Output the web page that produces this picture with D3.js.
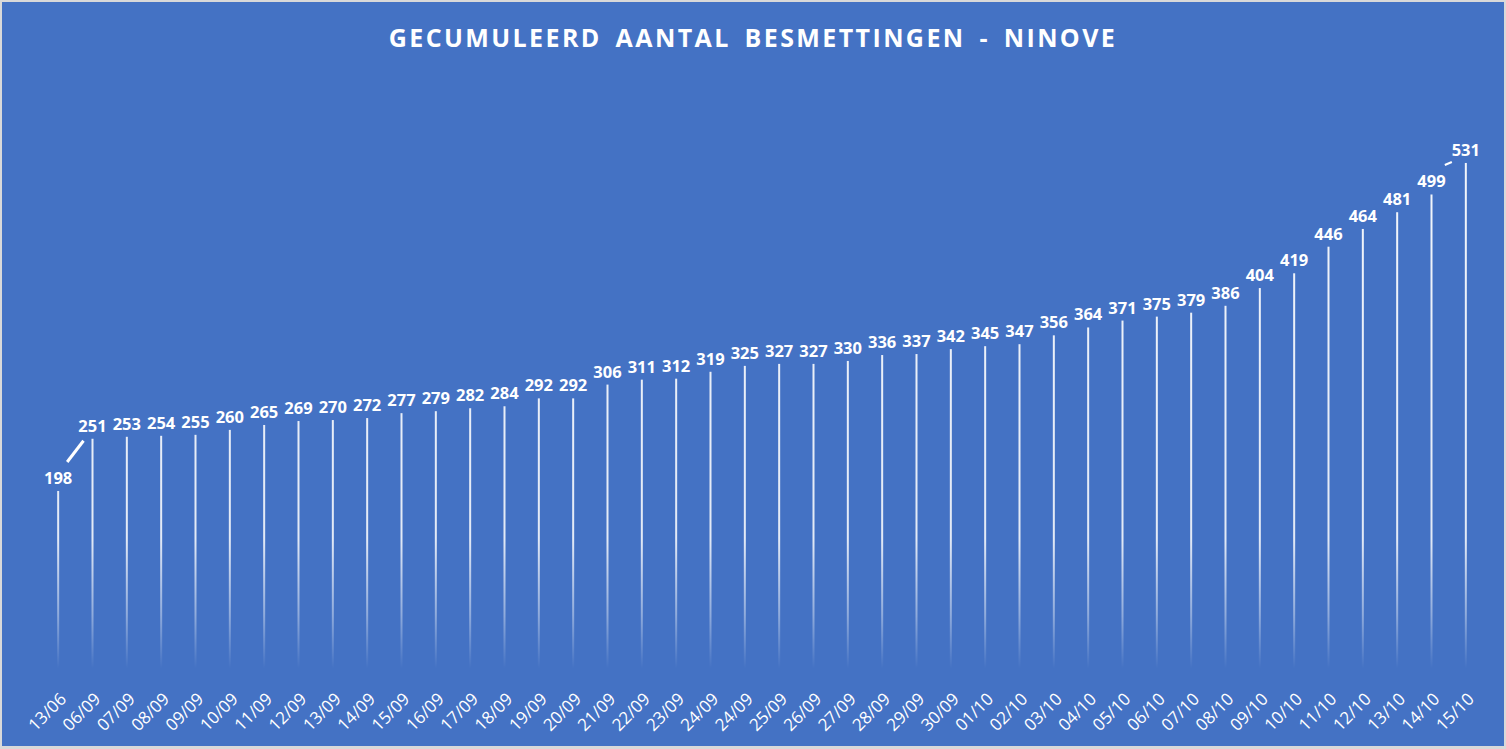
<!DOCTYPE html>
<html>
<head>
<meta charset="utf-8">
<script src="https://cdn.jsdelivr.net/npm/d3@7"></script>
<style>
  html, body { margin: 0; padding: 0; background: #d9d9d9; }
  svg { display: block; }
</style>
</head>
<body>
<svg id="chart" width="1506" height="749"></svg>
<script>
const title = "GECUMULEERD AANTAL BESMETTINGEN - NINOVE";
const categories = ["13/06","06/09","07/09","08/09","09/09","10/09","11/09","12/09","13/09","14/09","15/09","16/09","17/09","18/09","19/09","20/09","21/09","22/09","23/09","24/09","24/09","25/09","26/09","27/09","28/09","29/09","30/09","01/10","02/10","03/10","04/10","05/10","06/10","07/10","08/10","09/10","10/10","11/10","12/10","13/10","14/10","15/10"];
const values = [198,251,253,254,255,260,265,269,270,272,277,279,282,284,292,292,306,311,312,319,325,327,327,330,336,337,342,345,347,356,364,371,375,379,386,404,419,446,464,481,499,531];

const W = 1506, H = 749;
const svg = d3.select("#chart");
const font = "'Open Sans', 'DejaVu Sans', sans-serif";

// chart area background
svg.append("rect").attr("x", 2).attr("y", 2).attr("width", 1502).attr("height", 744).attr("fill", "#4472C4");

const margin = {left: 41, right: 23, top: 95, bottom: 63};
const x = d3.scaleBand().domain(d3.range(categories.length)).range([margin.left, W - margin.right]).padding(0);
const y = d3.scaleLinear().domain([0, 600]).range([H - margin.bottom, margin.top]);

// gradient for bars
const defs = svg.append("defs");
const grad = defs.append("linearGradient").attr("id", "barGrad")
  .attr("gradientUnits", "userSpaceOnUse")
  .attr("x1", 0).attr("x2", 0).attr("y1", y(600)).attr("y2", y(0));
grad.append("stop").attr("offset", "0").attr("stop-color", "#fff").attr("stop-opacity", 0.95);
grad.append("stop").attr("offset", "0.75").attr("stop-color", "#fff").attr("stop-opacity", 0.85);
grad.append("stop").attr("offset", "0.88").attr("stop-color", "#fff").attr("stop-opacity", 0.4);
grad.append("stop").attr("offset", "0.97").attr("stop-color", "#fff").attr("stop-opacity", 0);

const cx = i => x(i) + x.bandwidth() / 2;

// bars
svg.append("g").selectAll("rect").data(values).join("rect")
  .attr("x", (d, i) => cx(i) - 1)
  .attr("width", 2)
  .attr("y", d => y(d))
  .attr("height", d => y(0) - y(d))
  .attr("fill", "url(#barGrad)");

// data labels
svg.append("g").selectAll("text").data(values).join("text")
  .attr("x", (d, i) => cx(i))
  .attr("y", d => y(d) - 7)
  .attr("text-anchor", "middle")
  .attr("fill", "#fff")
  .attr("font-family", font)
  .attr("font-weight", "bold")
  .attr("font-size", "16.5px")
  .text(d => d);

// leader lines (as in original)
svg.append("line")
  .attr("x1", cx(0) + 9).attr("y1", y(values[0]) - 29)
  .attr("x2", cx(1) - 9).attr("y2", y(values[1]) + 2)
  .attr("stroke", "#fff").attr("stroke-width", 3);
const n = values.length - 1;
svg.append("line")
  .attr("x1", cx(n) - 21).attr("y1", y(values[n]) + 2)
  .attr("x2", cx(n) - 14).attr("y2", y(values[n]) - 1)
  .attr("stroke", "#fff").attr("stroke-width", 2);

// x axis
const xAxis = d3.axisBottom(x).tickSize(0).tickFormat(i => categories[i]);
const gx = svg.append("g").attr("transform", `translate(0,${y(0)})`).call(xAxis);
gx.select(".domain").remove();
gx.selectAll("text")
  .attr("fill", "#fff")
  .attr("font-family", font)
  .attr("font-size", "17px")
  .attr("text-anchor", "end")
  .attr("y", 0).attr("dy", "0.35em")
  .attr("transform", "translate(5,10) rotate(-45)");

// title
svg.append("text")
  .attr("x", 753).attr("y", 47)
  .attr("text-anchor", "middle")
  .attr("fill", "#fff")
  .attr("font-family", font)
  .attr("font-weight", "bold")
  .attr("font-size", "25px")
  .attr("letter-spacing", "2.4px")
  .attr("word-spacing", "5px")
  .text(title);
</script>
</body>
</html>
